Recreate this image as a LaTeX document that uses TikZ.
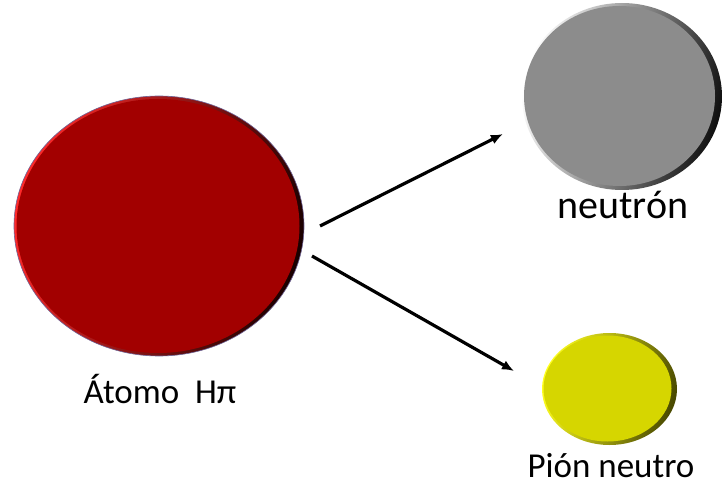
\documentclass[tikz,border=0pt]{standalone}
\usepackage{fontspec}
\setmainfont{Carlito}
\usetikzlibrary{shapes.geometric,arrows.meta}
\definecolor{redbase}{HTML}{A20000}
\definecolor{redlight}{HTML}{FF2A2A}
\definecolor{reddark}{HTML}{1A0000}
\definecolor{graybase}{HTML}{8C8C8C}
\definecolor{graylight}{HTML}{FFFFFF}
\definecolor{graydark}{HTML}{101010}
\definecolor{yelbase}{HTML}{D6D600}
\definecolor{yellight}{HTML}{FFFF20}
\definecolor{yeldark}{HTML}{4A4A00}
\tikzset{
  ball/.style={ellipse, inner sep=0pt, draw=none},
  lbl/.style={font=\fontsize{35}{40}\selectfont, anchor=base},
  arr/.style={line width=3.2pt, -{Latex[length=12pt,width=10pt]}}
}
\begin{document}
\begin{tikzpicture}[x=1pt,y=-1pt]
\useasboundingbox (0,0) rectangle (723,489);
% red atom
\node[ball, minimum width=290pt, minimum height=260pt, left color=redlight, middle color=redbase, right color=reddark, shading angle=75, draw={rgb,255:red,110;green,100;blue,150}, line width=0.6pt] (atom) at (159,226) {};
\fill[redbase] (158,226) ellipse [x radius=141.5pt, y radius=127pt];
% neutron
\node[ball, minimum width=200pt, minimum height=187pt, left color=graylight, middle color=graybase, right color=graydark, shading angle=75] (neutron) at (622,96.5) {};
\fill[graybase] (619.5,96) ellipse [x radius=95.5pt, y radius=90pt];
% pion
\node[ball, minimum width=135pt, minimum height=112pt, left color=yellight, middle color=yelbase, right color=yeldark, shading angle=75] (pion) at (609.5,389) {};
\fill[yelbase] (607.5,388.5) ellipse [x radius=64pt, y radius=53pt];
% labels
\node[lbl] (latom) at (160,403) {Átomo\ \ Hπ};
\node[lbl, font=\fontsize{40}{46}\selectfont] (lneutron) at (623,219) {neutrón};
\node[lbl] (lpion) at (611,477) {Pión neutro};
% arrows
\coordinate (a1) at (320,226);
\coordinate (b1) at (503,134);
\coordinate (a2) at (312,256);
\coordinate (b2) at (514,371);
\draw[arr] (a1) -- (b1);
\draw[arr] (a2) -- (b2);
\end{tikzpicture}
\end{document}
